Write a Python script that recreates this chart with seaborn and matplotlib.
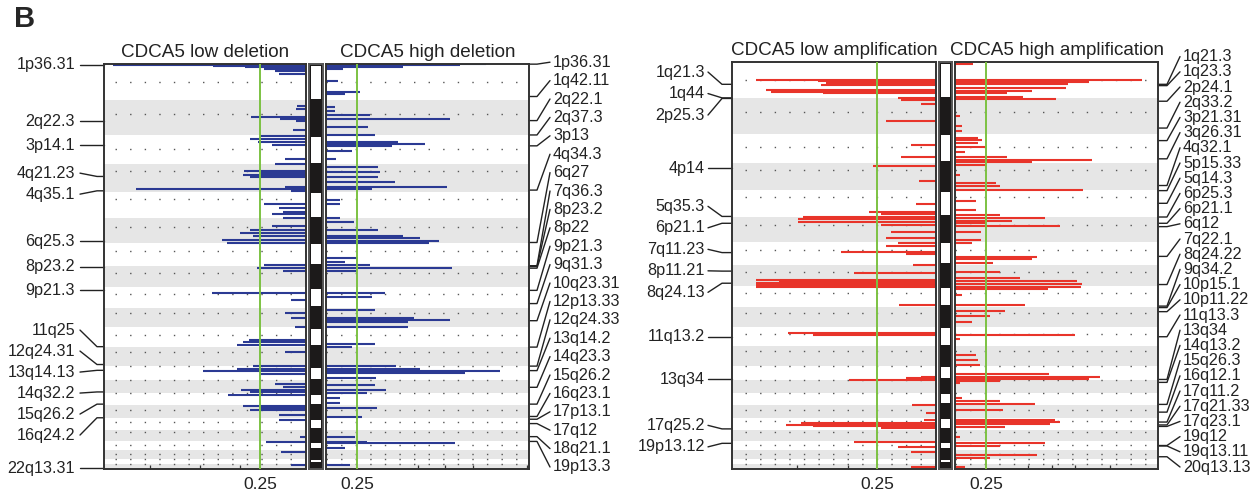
import re
import numpy as np
import matplotlib.pyplot as plt
import seaborn as sns
from matplotlib.transforms import blended_transform_factory

sns.set_theme(style='white')
plt.rcParams['font.family'] = ['Liberation Sans', 'DejaVu Sans']

# hg19 chromosome sizes and centromeres (Mb); p-arms of acrocentric chromosomes are not plotted
chrom_len = [249, 243, 198, 191, 181, 171, 159, 146, 141, 136, 135, 134,
             115, 107, 103, 90, 81, 78, 59, 63, 48, 51]
centromere = [125, 93, 91, 50, 48, 59, 59, 45, 49, 40, 53, 35,
              18, 18, 19, 36, 24, 17, 26, 28, 13, 15]
p_arm_skip = [0, 0, 0, 0, 0, 0, 0, 0, 0, 0, 0, 0,
              19, 19, 20, 0, 0, 0, 0, 0, 14, 16]

# GISTIC profiles: genome position (Mb, cumulative) and -log10(q)
del_low_pos = [7, 14, 21, 35, 48, 69, 290, 311, 366, 380, 394, 456, 498, 519, 539, 560,
               657, 692, 740, 754, 768, 781, 851, 864, 878, 968, 989, 1017, 1037, 1058,
               1113, 1141, 1162, 1182, 1210, 1231, 1383, 1404, 1425, 1577, 1625, 1715,
               1750, 1812, 1902, 1915, 1936, 1985, 2081, 2102, 2116, 2137, 2206, 2227,
               2247, 2261, 2282, 2358, 2372, 2386, 2420, 2455, 2572, 2607, 2676, 2766]
del_low_q = [2.53, 1.22, 0.8, 0.55, 0.4, 0.35, 0.12, 0.13, 0.72, 0.34, 0.13, 0.17, 0.6, 0.73,
             0.63, 0.45, 0.27, 0.4, 0.81, 0.6, 0.82, 0.73, 0.27, 2.23, 0.2, 0.55, 0.35, 0.3,
             0.45, 0.3, 0.45, 0.73, 0.86, 0.7, 1.1, 1.03, 0.55, 0.64, 0.3, 1.23, 0.2, 0.27,
             0.2, 0.15, 0.75, 0.82, 0.9, 0.27, 0.7, 0.9, 1.35, 0.6, 0.4, 0.3, 0.85, 0.73,
             1.02, 0.82, 0.6, 0.73, 0.35, 0.35, 0.08, 0.52, 0.33, 0.2]

del_high_pos = [2, 7, 21, 35, 118, 194, 207, 297, 323, 353, 380, 436, 491, 539, 553, 567,
                602, 657, 712, 747, 781, 816, 851, 864, 934, 968, 1058, 1086, 1141, 1182,
                1196, 1217, 1231, 1335, 1362, 1383, 1404, 1425, 1577, 1604, 1694, 1750, 1763,
                1777, 1812, 1929, 1950, 2081, 2102, 2116, 2130, 2164, 2213, 2247, 2268, 2303,
                2337, 2372, 2434, 2572, 2607, 2614, 2648, 2766]
del_high_q = [3.1, 2.6, 1.5, 0.33, 0.23, 0.66, 0.37, 0.17, 0.17, 0.85, 2.4, 0.82, 0.95, 1.4,
              1.92, 1.28, 0.5, 0.2, 1.0, 1.05, 1.0, 1.34, 2.35, 0.9, 0.27, 0.27, 0.27, 0.55,
              1.0, 1.5, 1.83, 2.2, 2.0, 0.62, 0.37, 0.85, 2.45, 0.6, 1.15, 0.9, 0.95, 1.7, 2.4,
              1.6, 1.6, 0.95, 0.5, 1.35, 1.83, 3.38, 2.7, 0.97, 0.95, 1.17, 0.8, 0.27, 0.27,
              0.99, 0.7, 0.56, 0.8, 2.5, 0.37, 0.46]

amp_low_pos = [123, 130, 144, 158, 192, 206, 213, 247, 261, 288, 405, 569, 652, 713, 816,
               974, 1029, 1043, 1063, 1077, 1098, 1118, 1166, 1207, 1242, 1262, 1303, 1317,
               1392, 1447, 1495, 1502, 1516, 1530, 1543, 1667, 1859, 1873, 2161, 2168, 2182,
               2353, 2408, 2456, 2476, 2490, 2497, 2511, 2607, 2641, 2675, 2778]
amp_low_q = [1.84, 1.2, 1.12, 1.17, 1.73, 1.68, 1.15, 0.39, 0.36, 0.15, 0.51, 0.26, 0.36,
             0.64, 0.17, 0.2, 0.68, 0.56, 1.36, 1.41, 1.41, 0.56, 0.46, 0.51, 0.39, 0.51,
             0.97, 0.31, 0.23, 0.84, 1.84, 1.6, 1.84, 1.84, 1.84, 0.38, 1.51, 1.25, 0.15,
             0.31, 0.89, 0.24, 0.1, 0.12, 1.38, 1.53, 1.25, 0.56, 0.84, 0.39, 0.26, 0.26]

amp_high_pos = [14, 123, 137, 151, 178, 199, 213, 240, 254, 370, 439, 473, 521, 535, 556,
                583, 617, 652, 672, 686, 707, 775, 830, 851, 878, 953, 1015, 1050, 1070,
                1091, 1104, 1125, 1166, 1221, 1242, 1338, 1351, 1379, 1440, 1482, 1502, 1523,
                1543, 1557, 1598, 1667, 1708, 1742, 1784, 1873, 1900, 2010, 2044, 2079, 2140,
                2161, 2175, 2189, 2202, 2305, 2326, 2346, 2387, 2456, 2470, 2483, 2504, 2573,
                2614, 2634, 2696, 2717, 2778]
amp_high_q = [0.35, 3.63, 2.6, 2.2, 2.16, 1.5, 1.0, 1.32, 1.96, 0.1, 0.14, 0.14, 0.45, 0.52,
              0.45, 0.58, 0.2, 1.0, 2.66, 1.5, 0.58, 0.1, 0.8, 0.87, 2.49, 0.4, 0.4, 0.87,
              1.75, 1.1, 0.6, 2.04, 0.5, 0.5, 0.33, 1.59, 1.5, 0.74, 0.87, 1.26, 2.37, 2.47,
              2.45, 1.8, 0.14, 1.36, 0.97, 0.68, 0.33, 2.33, 0.1, 0.41, 0.45, 0.49, 1.83,
              2.82, 2.6, 0.87, 0.1, 0.14, 0.87, 1.55, 0.93, 1.94, 2.04, 1.84, 0.97, 0.1,
              1.75, 0.87, 1.59, 0.68, 0.19]

# peak labels: cytoband and position within the chromosome (Mb)
del_low_labels = ['1p36.31', '2q22.3', '3p14.1', '4q21.23', '4q35.1', '6q25.3', '8p23.2',
                  '9p21.3', '11q25', '12q24.31', '13q14.13', '14q32.2', '15q26.2',
                  '16q24.2', '22q13.31']
del_low_label_mb = [6, 146, 68, 85, 184, 158, 4, 22, 133, 121, 46, 99, 96, 87, 46]

del_high_labels = ['1p36.31', '1q42.11', '2q22.1', '2q37.3', '3p13', '4q34.3', '6q27',
                   '7q36.3', '8p23.2', '8p22', '9p21.3', '9q31.3', '10q23.31', '12p13.33',
                   '12q24.33', '13q14.2', '14q23.3', '15q26.2', '16q23.1', '17p13.1',
                   '17q12', '18q21.1', '19p13.3']
del_high_label_mb = [1, 224, 141, 240, 72, 179, 168, 157, 4, 15, 22, 113, 90, 1, 132, 48,
                     67, 96, 78, 7, 37, 46, 1]

amp_low_labels = ['1q21.3', '1q44', '2p25.3', '4p14', '5q35.3', '6p21.1', '7q11.23',
                  '8p11.21', '8q24.13', '11q13.2', '13q34', '17q25.2', '19p13.12']
amp_low_label_mb = [153, 246, 1, 38, 178, 44, 74, 42, 125, 68, 112, 75, 15]

amp_high_labels = ['1q21.3', '1q23.3', '2p24.1', '2q33.2', '3p21.31', '3q26.31', '4q32.1',
                   '5p15.33', '5q14.3', '6p25.3', '6p21.1', '6q12', '7q22.1', '8q24.22',
                   '9q34.2', '10p15.1', '10p11.22', '11q13.3', '13q34', '14q13.2',
                   '15q26.3', '16q12.1', '17q11.2', '17q21.33', '17q23.1', '19q12',
                   '19q13.11', '20q13.13']
amp_high_label_mb = [153, 162, 20, 204, 47, 172, 157, 1, 88, 1, 44, 67, 100, 134, 136, 5,
                     33, 69, 112, 36, 100, 50, 28, 48, 58, 30, 33, 48]

thr = -np.log10(0.25)
eff_len = np.array(chrom_len) - np.array(p_arm_skip)
offsets = np.concatenate([[0], np.cumsum(eff_len)[:-1]])
total = eff_len.sum()
cen_pos = offsets + np.maximum(np.array(centromere) - np.array(p_arm_skip), 0)

W, H = 1257, 493
fig = plt.figure(figsize=(W / 100, H / 100), dpi=100)

BLUE, RED, GREEN = '#2b3a93', '#e8342a', '#7cc242'


def new_axes(x0, y0, w, h):
    return fig.add_axes([x0 / W, 1 - (y0 + h) / H, w / W, h / H])


def spread(targets, gap, lo, hi):
    # push overlapping labels apart, centring each crowded group on its targets
    groups = [[i] for i in range(len(targets))]

    def start(g):
        s = np.mean([targets[i] for i in g]) - gap * (len(g) - 1) / 2
        return min(max(s, lo), hi - gap * (len(g) - 1))

    merged = True
    while merged:
        merged = False
        for k in range(len(groups) - 1):
            a, b = groups[k], groups[k + 1]
            if start(a) + gap * len(a) > start(b) + 1e-9:
                groups[k] = a + b
                del groups[k + 1]
                merged = True
                break
    out = []
    for g in groups:
        s = start(g)
        out += [s + gap * j for j in range(len(g))]
    return out


def panel(x0, y0, w, h, pos, vals, xmax, color, title, flip, ticks):
    ax = new_axes(x0, y0, w, h)
    for i in range(len(chrom_len)):
        if i % 2 == 1:
            ax.axhspan(offsets[i], offsets[i] + eff_len[i], color='#e6e6e6', lw=0, zorder=0)
    ax.hlines(cen_pos, 0, xmax, colors='#555555', linestyles=(0, (1, 9.5)), lw=1.0, zorder=1)
    ax.hlines(pos, 0, vals, colors=color, lw=1.5, zorder=2)
    ax.axvline(thr, color=GREEN, lw=1.4, zorder=3)
    ax.set_ylim(total, 0)
    ax.set_xlim((xmax, 0) if flip else (0, xmax))
    ax.set_yticks([])
    ax.set_xticks([thr])
    ax.set_xticklabels(['0.25'])
    ax.set_xticks(ticks, minor=True)
    ax.tick_params(axis='x', which='major', bottom=True, length=0, pad=6,
                   labelsize=12.5, labelcolor='#222222')
    ax.tick_params(axis='x', which='minor', bottom=True, direction='in', length=3,
                   width=0.9, color='#333333')
    for sp in ax.spines.values():
        sp.set_color('#333333')
        sp.set_linewidth(1.4)
    ax.set_title(title, fontsize=13.6, pad=5, color='#222222')
    return ax


def ideogram(x0, y0, w, h):
    ax = new_axes(x0, y0, w, h)
    ax.set_facecolor('#1c1a1a')
    inset = total / h * 1.5
    for i in range(len(chrom_len)):
        if i % 2 == 0:
            ax.axhspan(offsets[i] + inset, offsets[i] + eff_len[i] - inset,
                       xmin=0.14, xmax=0.86, color='white', lw=0)
    ax.set_ylim(total, 0)
    ax.set_xlim(0, 1)
    ax.set_xticks([])
    ax.set_yticks([])
    for sp in ax.spines.values():
        sp.set_color('#555555')
        sp.set_linewidth(1.4)


def add_labels(ax, names, mbs, side, w, h, gap, lo, hi, bend, line_end, text_off):
    chrom = [int(re.match(r'\d+', n).group()) - 1 for n in names]
    targets = [offsets[c] + max(m - p_arm_skip[c], 0) for c, m in zip(chrom, mbs)]
    per_px = total / h
    ys = spread(targets, gap * per_px, lo * per_px, hi * per_px)
    tr = blended_transform_factory(ax.transAxes, ax.transData)
    sgn, edge, ha = (-1, 0, 'right') if side == 'left' else (1, 1, 'left')
    for name, t, y in zip(names, targets, ys):
        xs = [edge, edge + sgn * bend / w, edge + sgn * line_end / w]
        ax.plot(xs, [t, t, y], transform=tr, clip_on=False, color='#222222', lw=1.0)
        ax.text(edge + sgn * text_off / w, y, name, transform=tr, ha=ha, va='center',
                fontsize=11.6, color='#222222')


# deletion
ax1 = panel(104, 64, 202, 405, del_low_pos, del_low_q, 2.644, BLUE,
            'CDCA5 low deletion', True, [0.86, 1.39, 2.04])
ideogram(309, 64, 14, 405)
ax2 = panel(326, 64, 203, 405, del_high_pos, del_high_q, 3.94, BLUE,
            'CDCA5 high deletion', False, [1.79, 2.31, 2.85, 3.9])
add_labels(ax1, del_low_labels, del_low_label_mb, 'left', 202, 405, 21, -1, 405, 7, 24, 29)
add_labels(ax2, del_high_labels, del_high_label_mb, 'right', 203, 405, 18.4, -2, 403, 8, 21, 24)

# amplification
ax3 = panel(732, 62, 204, 407, amp_low_pos, amp_low_q, 2.08, RED,
            'CDCA5 low amplification', True, [0.9, 1.42])
ideogram(939, 62, 13, 407)
ax4 = panel(955, 62, 203, 407, amp_high_pos, amp_high_q, 3.94, RED,
            'CDCA5 high amplification', False, [1.42, 1.88, 2.33, 3.01])
add_labels(ax3, amp_low_labels, amp_low_label_mb, 'left', 204, 407, 21.5, 1, 407, 10, 24, 27)
add_labels(ax4, amp_high_labels, amp_high_label_mb, 'right', 203, 407, 15.2, -6, 405, 9, 22, 25)

fig.text(14 / W, 1 - 19 / H, 'B', fontsize=21, fontweight='bold', va='center', ha='left')

fig.savefig('out.png', dpi=100)
